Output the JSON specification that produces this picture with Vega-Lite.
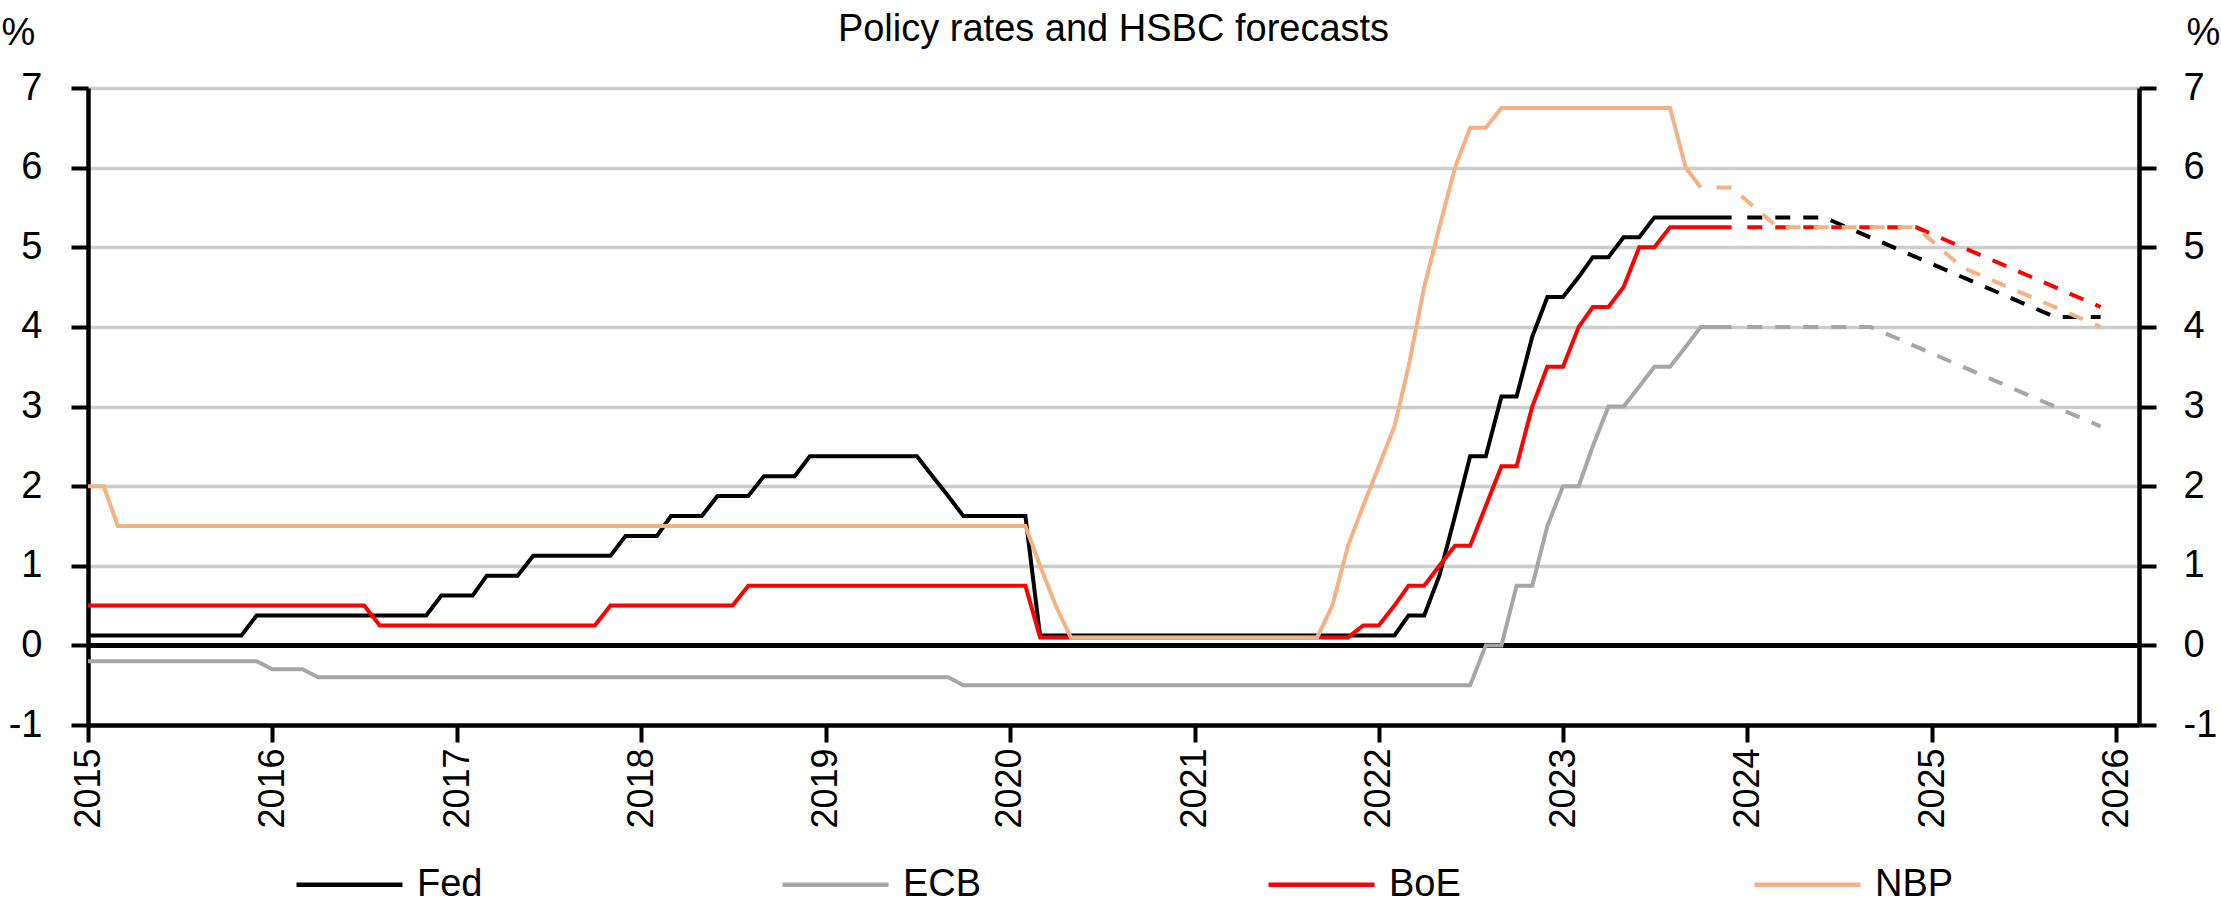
{
  "$schema": "https://vega.github.io/schema/vega-lite/v6.json",
  "width": 2051,
  "height": 637,
  "autosize": {"type": "none"},
  "padding": {"left": 88, "top": 88, "right": 82, "bottom": 179},
  "background": "white",
  "config": {
    "font": "Liberation Sans, Arial, sans-serif",
    "view": {"stroke": null},
    "axis": {
      "domainColor": "black",
      "domainWidth": 4.5,
      "tickColor": "black",
      "tickWidth": 4,
      "tickSize": 17,
      "labelFontSize": 38,
      "labelColor": "black",
      "titleFontSize": 38,
      "titleFontWeight": "normal",
      "titleColor": "black",
      "gridColor": "#CCCCCC",
      "gridWidth": 3.5
    }
  },
  "title": {
    "text": "Policy rates and HSBC forecasts",
    "fontSize": 38,
    "fontWeight": "normal",
    "color": "black",
    "anchor": "middle",
    "frame": "group",
    "baseline": "alphabetic",
    "offset": 0,
    "dy": 65
  },
  "data": {
    "values": [
      {"s": "Fed", "k": "a", "t": "2015-01-01", "v": 0.125},
      {"s": "Fed", "k": "a", "t": "2015-11-01", "v": 0.125},
      {"s": "Fed", "k": "a", "t": "2015-12-01", "v": 0.375},
      {"s": "Fed", "k": "a", "t": "2016-11-01", "v": 0.375},
      {"s": "Fed", "k": "a", "t": "2016-12-01", "v": 0.625},
      {"s": "Fed", "k": "a", "t": "2017-02-01", "v": 0.625},
      {"s": "Fed", "k": "a", "t": "2017-03-01", "v": 0.875},
      {"s": "Fed", "k": "a", "t": "2017-05-01", "v": 0.875},
      {"s": "Fed", "k": "a", "t": "2017-06-01", "v": 1.125},
      {"s": "Fed", "k": "a", "t": "2017-11-01", "v": 1.125},
      {"s": "Fed", "k": "a", "t": "2017-12-01", "v": 1.375},
      {"s": "Fed", "k": "a", "t": "2018-02-01", "v": 1.375},
      {"s": "Fed", "k": "a", "t": "2018-03-01", "v": 1.625},
      {"s": "Fed", "k": "a", "t": "2018-05-01", "v": 1.625},
      {"s": "Fed", "k": "a", "t": "2018-06-01", "v": 1.875},
      {"s": "Fed", "k": "a", "t": "2018-08-01", "v": 1.875},
      {"s": "Fed", "k": "a", "t": "2018-09-01", "v": 2.125},
      {"s": "Fed", "k": "a", "t": "2018-11-01", "v": 2.125},
      {"s": "Fed", "k": "a", "t": "2018-12-01", "v": 2.375},
      {"s": "Fed", "k": "a", "t": "2019-07-01", "v": 2.375},
      {"s": "Fed", "k": "a", "t": "2019-08-01", "v": 2.125},
      {"s": "Fed", "k": "a", "t": "2019-09-01", "v": 1.875},
      {"s": "Fed", "k": "a", "t": "2019-10-01", "v": 1.625},
      {"s": "Fed", "k": "a", "t": "2020-02-01", "v": 1.625},
      {"s": "Fed", "k": "a", "t": "2020-03-01", "v": 0.125},
      {"s": "Fed", "k": "a", "t": "2022-02-01", "v": 0.125},
      {"s": "Fed", "k": "a", "t": "2022-03-01", "v": 0.375},
      {"s": "Fed", "k": "a", "t": "2022-04-01", "v": 0.375},
      {"s": "Fed", "k": "a", "t": "2022-05-01", "v": 0.875},
      {"s": "Fed", "k": "a", "t": "2022-06-01", "v": 1.625},
      {"s": "Fed", "k": "a", "t": "2022-07-01", "v": 2.375},
      {"s": "Fed", "k": "a", "t": "2022-08-01", "v": 2.375},
      {"s": "Fed", "k": "a", "t": "2022-09-01", "v": 3.125},
      {"s": "Fed", "k": "a", "t": "2022-10-01", "v": 3.125},
      {"s": "Fed", "k": "a", "t": "2022-11-01", "v": 3.875},
      {"s": "Fed", "k": "a", "t": "2022-12-01", "v": 4.375},
      {"s": "Fed", "k": "a", "t": "2023-01-01", "v": 4.375},
      {"s": "Fed", "k": "a", "t": "2023-02-01", "v": 4.625},
      {"s": "Fed", "k": "a", "t": "2023-03-01", "v": 4.875},
      {"s": "Fed", "k": "a", "t": "2023-04-01", "v": 4.875},
      {"s": "Fed", "k": "a", "t": "2023-05-01", "v": 5.125},
      {"s": "Fed", "k": "a", "t": "2023-06-01", "v": 5.125},
      {"s": "Fed", "k": "a", "t": "2023-07-01", "v": 5.375},
      {"s": "Fed", "k": "a", "t": "2023-12-01", "v": 5.375},
      {"s": "ECB", "k": "a", "t": "2015-01-01", "v": -0.2},
      {"s": "ECB", "k": "a", "t": "2015-12-01", "v": -0.2},
      {"s": "ECB", "k": "a", "t": "2016-01-01", "v": -0.3},
      {"s": "ECB", "k": "a", "t": "2016-03-01", "v": -0.3},
      {"s": "ECB", "k": "a", "t": "2016-04-01", "v": -0.4},
      {"s": "ECB", "k": "a", "t": "2019-09-01", "v": -0.4},
      {"s": "ECB", "k": "a", "t": "2019-10-01", "v": -0.5},
      {"s": "ECB", "k": "a", "t": "2022-07-01", "v": -0.5},
      {"s": "ECB", "k": "a", "t": "2022-08-01", "v": 0},
      {"s": "ECB", "k": "a", "t": "2022-09-01", "v": 0},
      {"s": "ECB", "k": "a", "t": "2022-10-01", "v": 0.75},
      {"s": "ECB", "k": "a", "t": "2022-11-01", "v": 0.75},
      {"s": "ECB", "k": "a", "t": "2022-12-01", "v": 1.5},
      {"s": "ECB", "k": "a", "t": "2023-01-01", "v": 2.0},
      {"s": "ECB", "k": "a", "t": "2023-02-01", "v": 2.0},
      {"s": "ECB", "k": "a", "t": "2023-03-01", "v": 2.5},
      {"s": "ECB", "k": "a", "t": "2023-04-01", "v": 3.0},
      {"s": "ECB", "k": "a", "t": "2023-05-01", "v": 3.0},
      {"s": "ECB", "k": "a", "t": "2023-06-01", "v": 3.25},
      {"s": "ECB", "k": "a", "t": "2023-07-01", "v": 3.5},
      {"s": "ECB", "k": "a", "t": "2023-08-01", "v": 3.5},
      {"s": "ECB", "k": "a", "t": "2023-09-01", "v": 3.75},
      {"s": "ECB", "k": "a", "t": "2023-10-01", "v": 4.0},
      {"s": "ECB", "k": "a", "t": "2023-12-01", "v": 4.0},
      {"s": "BoE", "k": "a", "t": "2015-01-01", "v": 0.5},
      {"s": "BoE", "k": "a", "t": "2016-07-01", "v": 0.5},
      {"s": "BoE", "k": "a", "t": "2016-08-01", "v": 0.25},
      {"s": "BoE", "k": "a", "t": "2017-10-01", "v": 0.25},
      {"s": "BoE", "k": "a", "t": "2017-11-01", "v": 0.5},
      {"s": "BoE", "k": "a", "t": "2018-07-01", "v": 0.5},
      {"s": "BoE", "k": "a", "t": "2018-08-01", "v": 0.75},
      {"s": "BoE", "k": "a", "t": "2020-02-01", "v": 0.75},
      {"s": "BoE", "k": "a", "t": "2020-03-01", "v": 0.1},
      {"s": "BoE", "k": "a", "t": "2021-11-01", "v": 0.1},
      {"s": "BoE", "k": "a", "t": "2021-12-01", "v": 0.25},
      {"s": "BoE", "k": "a", "t": "2022-01-01", "v": 0.25},
      {"s": "BoE", "k": "a", "t": "2022-02-01", "v": 0.5},
      {"s": "BoE", "k": "a", "t": "2022-03-01", "v": 0.75},
      {"s": "BoE", "k": "a", "t": "2022-04-01", "v": 0.75},
      {"s": "BoE", "k": "a", "t": "2022-05-01", "v": 1.0},
      {"s": "BoE", "k": "a", "t": "2022-06-01", "v": 1.25},
      {"s": "BoE", "k": "a", "t": "2022-07-01", "v": 1.25},
      {"s": "BoE", "k": "a", "t": "2022-08-01", "v": 1.75},
      {"s": "BoE", "k": "a", "t": "2022-09-01", "v": 2.25},
      {"s": "BoE", "k": "a", "t": "2022-10-01", "v": 2.25},
      {"s": "BoE", "k": "a", "t": "2022-11-01", "v": 3.0},
      {"s": "BoE", "k": "a", "t": "2022-12-01", "v": 3.5},
      {"s": "BoE", "k": "a", "t": "2023-01-01", "v": 3.5},
      {"s": "BoE", "k": "a", "t": "2023-02-01", "v": 4.0},
      {"s": "BoE", "k": "a", "t": "2023-03-01", "v": 4.25},
      {"s": "BoE", "k": "a", "t": "2023-04-01", "v": 4.25},
      {"s": "BoE", "k": "a", "t": "2023-05-01", "v": 4.5},
      {"s": "BoE", "k": "a", "t": "2023-06-01", "v": 5.0},
      {"s": "BoE", "k": "a", "t": "2023-07-01", "v": 5.0},
      {"s": "BoE", "k": "a", "t": "2023-08-01", "v": 5.25},
      {"s": "BoE", "k": "a", "t": "2023-12-01", "v": 5.25},
      {"s": "NBP", "k": "a", "t": "2015-01-01", "v": 2.0},
      {"s": "NBP", "k": "a", "t": "2015-02-01", "v": 2.0},
      {"s": "NBP", "k": "a", "t": "2015-03-01", "v": 1.5},
      {"s": "NBP", "k": "a", "t": "2020-02-01", "v": 1.5},
      {"s": "NBP", "k": "a", "t": "2020-03-01", "v": 1.0},
      {"s": "NBP", "k": "a", "t": "2020-04-01", "v": 0.5},
      {"s": "NBP", "k": "a", "t": "2020-05-01", "v": 0.1},
      {"s": "NBP", "k": "a", "t": "2021-09-01", "v": 0.1},
      {"s": "NBP", "k": "a", "t": "2021-10-01", "v": 0.5},
      {"s": "NBP", "k": "a", "t": "2021-11-01", "v": 1.25},
      {"s": "NBP", "k": "a", "t": "2021-12-01", "v": 1.75},
      {"s": "NBP", "k": "a", "t": "2022-01-01", "v": 2.25},
      {"s": "NBP", "k": "a", "t": "2022-02-01", "v": 2.75},
      {"s": "NBP", "k": "a", "t": "2022-03-01", "v": 3.5},
      {"s": "NBP", "k": "a", "t": "2022-04-01", "v": 4.5},
      {"s": "NBP", "k": "a", "t": "2022-05-01", "v": 5.25},
      {"s": "NBP", "k": "a", "t": "2022-06-01", "v": 6.0},
      {"s": "NBP", "k": "a", "t": "2022-07-01", "v": 6.5},
      {"s": "NBP", "k": "a", "t": "2022-08-01", "v": 6.5},
      {"s": "NBP", "k": "a", "t": "2022-09-01", "v": 6.75},
      {"s": "NBP", "k": "a", "t": "2023-08-01", "v": 6.75},
      {"s": "NBP", "k": "a", "t": "2023-09-01", "v": 6.0},
      {"s": "NBP", "k": "a", "t": "2023-10-01", "v": 5.75},
      {"s": "Fed", "k": "f", "t": "2024-01-01", "v": 5.375},
      {"s": "Fed", "k": "f", "t": "2024-06-01", "v": 5.375},
      {"s": "Fed", "k": "f", "t": "2025-09-01", "v": 4.125},
      {"s": "Fed", "k": "f", "t": "2025-12-01", "v": 4.125},
      {"s": "ECB", "k": "f", "t": "2024-01-01", "v": 4.0},
      {"s": "ECB", "k": "f", "t": "2024-09-01", "v": 4.0},
      {"s": "ECB", "k": "f", "t": "2025-12-01", "v": 2.75},
      {"s": "BoE", "k": "f", "t": "2024-01-01", "v": 5.25},
      {"s": "BoE", "k": "f", "t": "2024-12-01", "v": 5.25},
      {"s": "BoE", "k": "f", "t": "2025-12-01", "v": 4.25},
      {"s": "NBP", "k": "f", "t": "2023-11-01", "v": 5.75},
      {"s": "NBP", "k": "f", "t": "2023-12-01", "v": 5.75},
      {"s": "NBP", "k": "f", "t": "2024-03-01", "v": 5.25},
      {"s": "NBP", "k": "f", "t": "2024-12-01", "v": 5.25},
      {"s": "NBP", "k": "f", "t": "2025-03-01", "v": 4.75},
      {"s": "NBP", "k": "f", "t": "2025-12-01", "v": 4.0}
    ]
  },
  "resolve": {"scale": {"y": "shared", "x": "shared", "color": "shared"}, "axis": {"y": "independent"}},
  "layer": [
    {
      "mark": {"type": "rule", "color": "black", "strokeWidth": 4},
      "encoding": {
        "y": {"datum": 0, "type": "quantitative", "axis": null}
      }
    },
    {
      "transform": [{"filter": "datum.k === 'a'"}],
      "mark": {"type": "line", "strokeWidth": 4, "strokeCap": "butt", "strokeJoin": "miter"},
      "encoding": {
        "x": {
          "field": "t", "type": "temporal",
          "scale": {"type": "utc", "domain": [{"year": 2015, "month": 1, "date": 1, "utc": true}, {"year": 2026, "month": 2, "date": 15, "utc": true}]},
          "axis": {
            "title": null, "format": "%Y", "labelAngle": -90, "labelPadding": 6, "labelFontSize": 36, "grid": false,
            "values": [
              {"year": 2015, "month": 1, "date": 1, "utc": true},
              {"year": 2016, "month": 1, "date": 1, "utc": true},
              {"year": 2017, "month": 1, "date": 1, "utc": true},
              {"year": 2018, "month": 1, "date": 1, "utc": true},
              {"year": 2019, "month": 1, "date": 1, "utc": true},
              {"year": 2020, "month": 1, "date": 1, "utc": true},
              {"year": 2021, "month": 1, "date": 1, "utc": true},
              {"year": 2022, "month": 1, "date": 1, "utc": true},
              {"year": 2023, "month": 1, "date": 1, "utc": true},
              {"year": 2024, "month": 1, "date": 1, "utc": true},
              {"year": 2025, "month": 1, "date": 1, "utc": true},
              {"year": 2026, "month": 1, "date": 1, "utc": true}
            ]
          }
        },
        "y": {
          "field": "v", "type": "quantitative",
          "scale": {"domain": [-1, 7], "nice": false, "zero": false},
          "axis": {
            "orient": "left", "values": [-1, 0, 1, 2, 3, 4, 5, 6, 7], "grid": true,
            "labelExpr": "datum.value < 0 ? '-' + abs(datum.value) : datum.label",
            "labelPadding": 29, "title": "%", "titleAngle": 0, "titleAlign": "center",
            "titleBaseline": "alphabetic", "titleX": -70, "titleY": -44
          }
        },
        "color": {
          "field": "s", "type": "nominal",
          "scale": {"domain": ["Fed", "ECB", "BoE", "NBP"], "range": ["#000000", "#A6A6A6", "#FF0000", "#F4B183"]},
          "legend": {
            "title": null, "orient": "none", "legendX": 206, "legendY": 741,
            "direction": "horizontal", "columns": 4, "gridAlign": "all", "columnPadding": 277,
            "symbolType": "stroke", "symbolSize": 11236, "symbolStrokeWidth": 4.5,
            "labelFontSize": 38, "labelColor": "black", "labelOffset": 12, "padding": 0
          }
        }
      }
    },
    {
      "transform": [{"filter": "datum.k === 'f'"}],
      "mark": {"type": "line", "strokeWidth": 4, "strokeDash": [15, 13], "strokeCap": "butt"},
      "encoding": {
        "x": {"field": "t", "type": "temporal"},
        "y": {
          "field": "v", "type": "quantitative",
          "axis": {
            "orient": "right", "values": [-1, 0, 1, 2, 3, 4, 5, 6, 7], "grid": false,
            "labelExpr": "datum.value < 0 ? '-' + abs(datum.value) : datum.label",
            "labelPadding": 27, "title": "%", "titleAngle": 0, "titleAlign": "center",
            "titleBaseline": "alphabetic", "titleX": 64, "titleY": -44
          }
        },
        "color": {"field": "s", "type": "nominal", "legend": null}
      }
    }
  ]
}
